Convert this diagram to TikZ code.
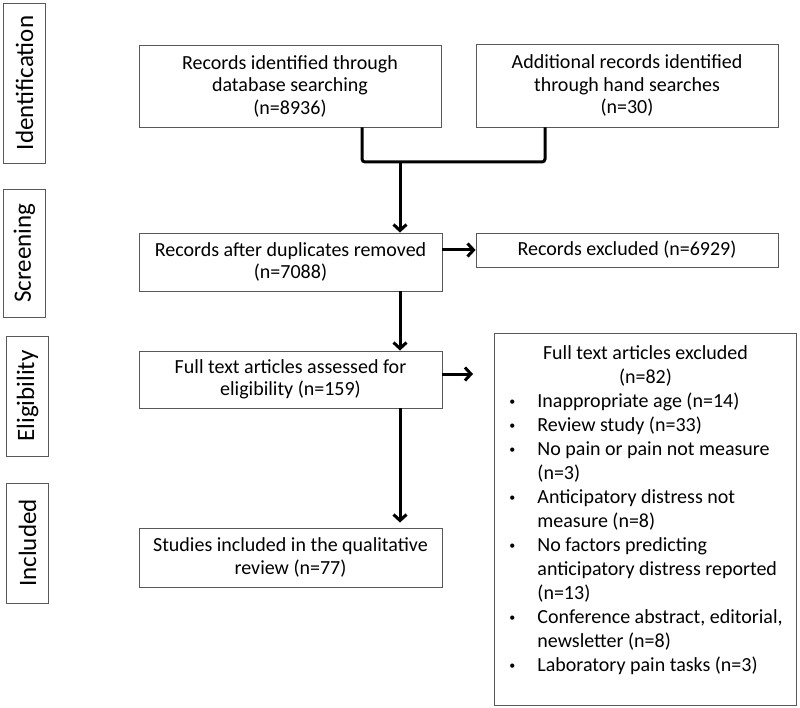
\documentclass[tikz,border=0pt]{standalone}
\usepackage{fontspec}
\setmainfont{Carlito}
\usetikzlibrary{arrows.meta}
\newcommand{\bul}[1]{\par\noindent\hangindent=29pt\hangafter=1\makebox[29pt][l]{\hspace{1pt}\raisebox{1.5pt}{\fontsize{12}{12}\selectfont\textbullet}}#1}
\begin{document}
\begin{tikzpicture}[x=1pt,y=-1pt,
  boxline/.style={draw=black!65, line width=0.9pt},
  mainbox/.style={boxline, minimum width=302pt, inner sep=0pt, align=center,
    font=\fontsize{20}{22.5}\selectfont},
  sidebox/.style={boxline, rotate=90, inner sep=0pt, minimum height=42pt,
    font=\fontsize{25}{28}\selectfont},
  conn/.style={line width=3pt, black},
  arr/.style={conn, -{Straight Barb[length=6pt,width=13pt]}}]
\useasboundingbox (0,0) rectangle (800,708);
% side labels
\node[sidebox, minimum width=160pt] (sid) at (24.5,83) {Identification};
\node[sidebox, minimum width=128pt] (ssc) at (24.5,253) {Screening};
\node[sidebox, minimum width=120pt] (sel) at (27.5,396) {Eligibility};
\node[sidebox, minimum width=120pt] (sin) at (27.5,543) {Included};
% main boxes
\node[mainbox, minimum height=82pt] (rec) at (290,86) {Records identified through\\database searching\\(n=8936)};
\node[mainbox, minimum height=83pt] (add) at (627,85.5) {Additional records identified\\through hand searches\\(n=30)};
\node[mainbox, minimum width=303pt, minimum height=58pt] (dup) at (290.5,262) {Records after duplicates removed\\(n=7088)};
\node[mainbox, minimum height=34pt] (ex1) at (627,250) {Records excluded (n=6929)};
\node[mainbox, minimum width=303pt, minimum height=57pt] (full) at (290.5,379.5) {Full text articles assessed for\\eligibility (n=159)};
\node[mainbox, minimum width=303pt, minimum height=59pt] (stud) at (290.5,557.5) {Studies included in the qualitative\\review (n=77)};
\node[boxline, inner sep=0pt, anchor=north west, font=\fontsize{20}{24}\selectfont] (ex2) at (494,333)
{\parbox[c][372pt][t]{302pt}{\vspace{12pt}%
\centering Full text articles excluded\\(n=82)\par
\raggedright\leftskip=14pt
\bul{Inappropriate age (n=14)}
\bul{Review study (n=33)}
\bul{No pain or pain not measure\newline (n=3)}
\bul{Anticipatory distress not\newline measure (n=8)}
\bul{No factors predicting\newline anticipatory distress reported\newline (n=13)}
\bul{Conference abstract, editorial,\newline newsletter (n=8)}
\bul{Laboratory pain tasks (n=3)}\par}};
% connectors
\coordinate (jl) at (362,162);
\coordinate (jr) at (545,162);
\coordinate (jn) at (400,162);
\coordinate (e2) at (473,374);
\draw[conn, rounded corners=3pt] (rec.south -| jl) -- (jl) -- (jr) -- (add.south -| jr);
\draw[arr] (jn) -- (dup.north -| jn);
\draw[arr] (dup.east |- ex1) -- (ex1.west);
\draw[arr] (dup.south -| jn) -- (full.north -| jn);
\draw[arr] (full.east |- e2) -- (e2);
\draw[arr, shorten >=5pt] (full.south -| jn) -- (stud.north -| jn);
\end{tikzpicture}
\end{document}
